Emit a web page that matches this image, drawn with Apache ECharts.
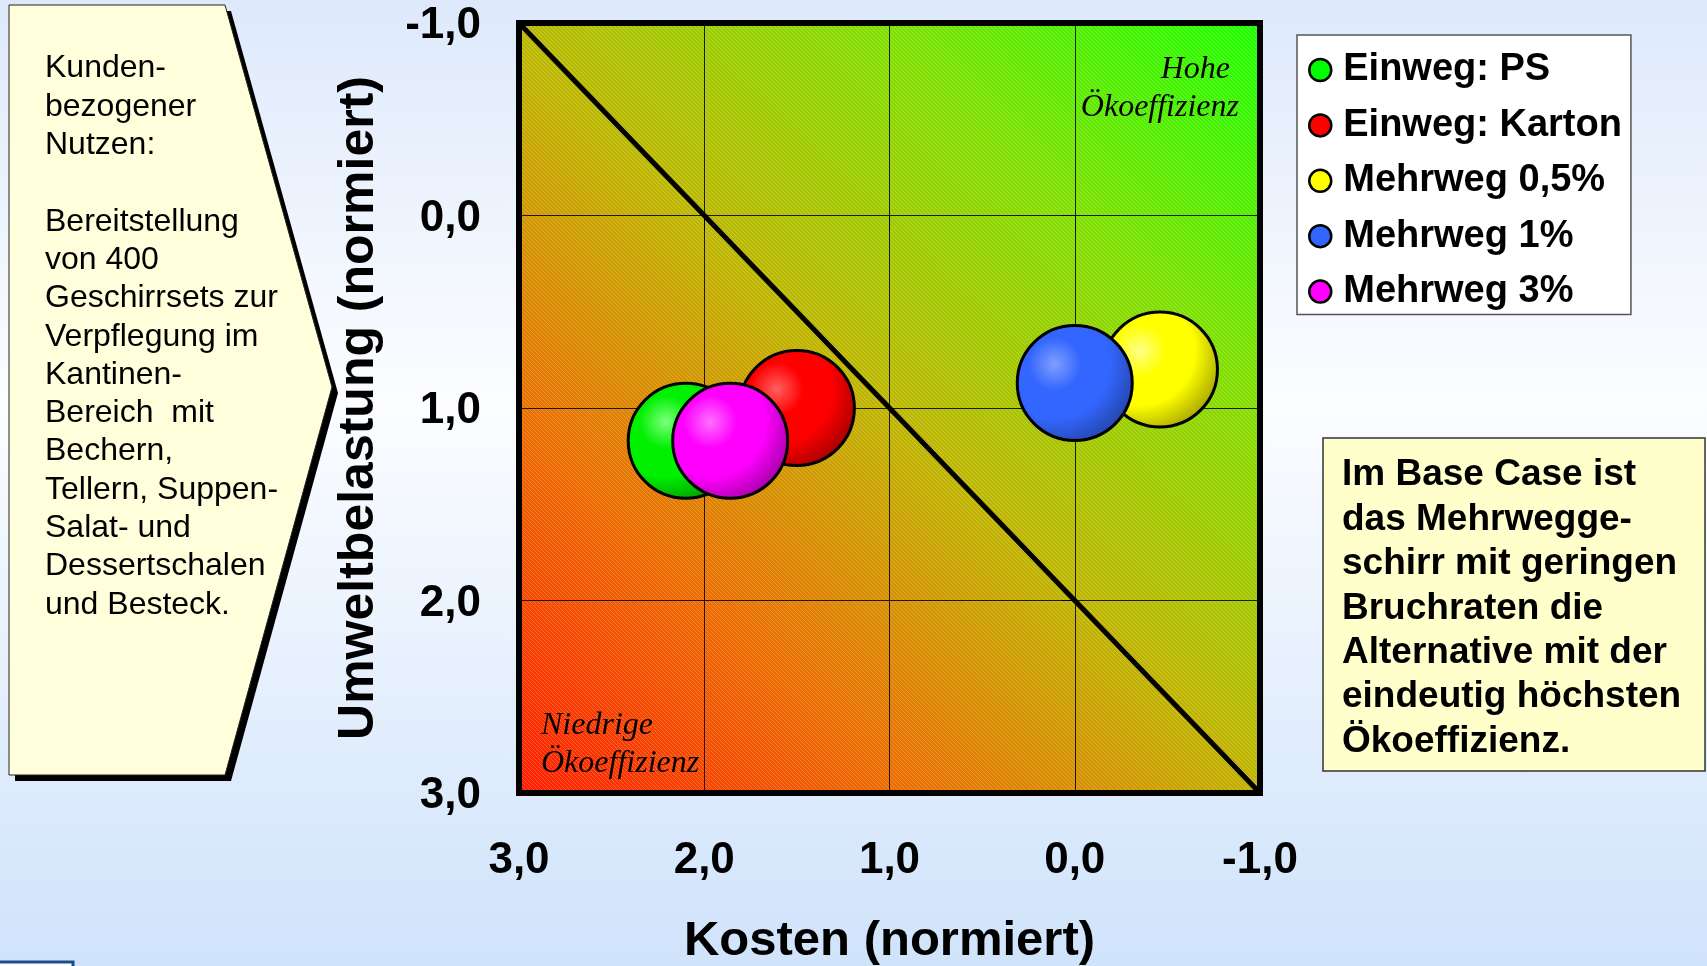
<!DOCTYPE html>
<html>
<head>
<meta charset="utf-8">
<script src="https://cdn.jsdelivr.net/npm/echarts@6/dist/echarts.min.js"></script>
<style>
  html, body { margin: 0; padding: 0; width: 1707px; height: 966px; overflow: hidden;
    background: linear-gradient(to bottom, #dde9fb 0%, #f4f8fe 30%, #fbfdff 42%, #e6f0fd 70%, #cfe3fb 100%); }
  #chart { width: 1707px; height: 966px; }
</style>
</head>
<body>
<div id="chart"></div>
<script>
// Alternatives compared in the eco-efficiency portfolio
const seriesNames = ['Einweg: PS', 'Einweg: Karton', 'Mehrweg 0,5%', 'Mehrweg 1%', 'Mehrweg 3%'];
// Normalised costs (x) and normalised environmental impact (y)
const kosten = [2.10, 1.50, -0.46, 0.00, 1.86];
const umwelt = [1.17, 1.00, 0.80, 0.87, 1.17];
// Shading per bubble: highlight, body, rim
const bubbleShades = [
  ['#7dff7d', '#00f000', '#009000'],
  ['#ff6060', '#ff0000', '#a00000'],
  ['#ffff86', '#ffff00', '#a0a000'],
  ['#7f9fff', '#3366ff', '#2244a4'],
  ['#ff70ff', '#ff00ff', '#a000a0']
];
const legendColors = ['#00ff00', '#ff0000', '#ffff00', '#3366ff', '#ff00ff'];
// Axis range (both axes run from -1,0 to 3,0)
const axisMin = -1, axisMax = 3, axisStep = 1;
// Line of equal eco-efficiency
const isoLine = [[3, -1], [-1, 3]];

const benefitLines = ['Kunden-', 'bezogener', 'Nutzen:', '', 'Bereitstellung', 'von 400',
  'Geschirrsets zur', 'Verpflegung im', 'Kantinen-', 'Bereich  mit', 'Bechern,',
  'Tellern, Suppen-', 'Salat- und', 'Dessertschalen', 'und Besteck.'];
const conclusionLines = ['Im Base Case ist', 'das Mehrwegge-', 'schirr mit geringen',
  'Bruchraten die', 'Alternative mit der', 'eindeutig höchsten', 'Ökoeffizienz.'];

const FONT = '"Liberation Sans", Arial, Helvetica, sans-serif';
const SERIF = '"Liberation Serif", "Times New Roman", serif';
const PLOT = { left: 519, top: 23, width: 741, height: 770 };

function fmt(v) { return v.toFixed(1).replace('.', ','); }

// fine diagonal hatch over the plot background
function hatchCanvas() {
  const c = document.createElement('canvas');
  c.width = 4; c.height = 4;
  const g = c.getContext('2d');
  g.strokeStyle = 'rgba(255,255,255,0.22)';
  g.lineWidth = 1;
  g.beginPath();
  g.moveTo(-1, -1); g.lineTo(5, 5);
  g.stroke();
  return c;
}

const chart = echarts.init(document.getElementById('chart'), null, { renderer: 'canvas' });

const arrowPts = [[9, 5], [225, 5], [332, 387], [225, 775], [9, 775]];

const option = {
  animation: false,
  grid: Object.assign({
    show: true, borderColor: '#000', borderWidth: 6, backgroundColor: 'transparent',
    containLabel: false, outerBoundsMode: 'none'
  }, PLOT),
  xAxis: {
    type: 'value', min: axisMin, max: axisMax, interval: axisStep, inverse: true,
    name: 'Kosten (normiert)', nameLocation: 'middle', nameGap: 124,
    nameTextStyle: { fontFamily: FONT, fontWeight: 'bold', fontSize: 49, color: '#000' },
    axisLine: { show: false },
    axisTick: { show: true, length: 15, lineStyle: { color: '#000', width: 1 } },
    axisLabel: { formatter: fmt, margin: 46, fontFamily: FONT, fontWeight: 'bold', fontSize: 44, color: '#000' },
    splitLine: { show: true, lineStyle: { color: '#000', width: 1, opacity: 0.85 } }
  },
  yAxis: {
    type: 'value', min: axisMin, max: axisMax, interval: axisStep, inverse: true,
    name: 'Umweltbelastung (normiert)', nameLocation: 'middle', nameGap: 135, nameRotate: 90,
    nameTextStyle: { fontFamily: FONT, fontWeight: 'bold', fontSize: 50, color: '#000' },
    axisLine: { show: false },
    axisTick: { show: true, length: 13, lineStyle: { color: '#000', width: 1 } },
    axisLabel: { formatter: fmt, margin: 38, verticalAlign: 'top', lineHeight: 6,
      fontFamily: FONT, fontWeight: 'bold', fontSize: 44, color: '#000' },
    splitLine: { show: true, lineStyle: { color: '#000', width: 1, opacity: 0.85 } }
  },
  legend: {
    orient: 'vertical', left: 1297, top: 35, icon: 'circle',
    itemWidth: 36, itemHeight: 22, itemGap: 17.4,
    padding: [16, 9, 4, 11],
    backgroundColor: '#ffffff', borderColor: '#555', borderWidth: 1.5,
    selectedMode: false,
    textStyle: { fontFamily: FONT, fontWeight: 'bold', fontSize: 38, lineHeight: 37, color: '#000' },
    data: seriesNames.map((n, i) => ({
      name: n, itemStyle: { color: legendColors[i], borderColor: '#000', borderWidth: 2.5 }
    }))
  },
  series: [
    {
      type: 'line', name: 'iso', data: isoLine, symbol: 'none', silent: true, z: 3,
      lineStyle: { color: '#000', width: 5 }
    }
  ].concat(seriesNames.map((n, i) => ({
    type: 'scatter', name: n, data: [[kosten[i], umwelt[i]]],
    symbol: 'circle', symbolSize: 115, silent: true, z: 4,
    itemStyle: {
      opacity: 1,
      color: {
        type: 'radial', x: 0.33, y: 0.34, r: 0.75,
        colorStops: [
          { offset: 0, color: bubbleShades[i][0] },
          { offset: 0.3, color: bubbleShades[i][1] },
          { offset: 0.62, color: bubbleShades[i][1] },
          { offset: 1, color: bubbleShades[i][2] }
        ]
      },
      borderColor: '#000', borderWidth: 3
    },
    emphasis: { disabled: true }
  }))),
  graphic: [
    // plot background: red (low eco-efficiency) to green (high)
    {
      type: 'rect', z: -10, silent: true,
      shape: { x: PLOT.left, y: PLOT.top, width: PLOT.width, height: PLOT.height },
      style: {
        fill: {
          type: 'linear', x: 0, y: 1, x2: 1, y2: 0,
          colorStops: [
            { offset: 0, color: '#ff1c00' },
            { offset: 0.25, color: '#ec6c00' },
            { offset: 0.5, color: '#bdb600' },
            { offset: 0.75, color: '#80df00' },
            { offset: 1, color: '#1cff00' }
          ]
        }
      }
    },
    {
      type: 'rect', z: -9, silent: true,
      shape: { x: PLOT.left, y: PLOT.top, width: PLOT.width, height: PLOT.height },
      style: { fill: { image: hatchCanvas(), repeat: 'repeat' } }
    },
    // quadrant captions
    {
      type: 'text', z: 5, silent: true,
      style: { text: 'Hohe', x: 1230, y: 70, align: 'right', verticalAlign: 'middle',
        font: 'italic 32px ' + SERIF, fill: '#000' }
    },
    {
      type: 'text', z: 5, silent: true,
      style: { text: 'Ökoeffizienz', x: 1239, y: 108, align: 'right', verticalAlign: 'middle',
        font: 'italic 32px ' + SERIF, fill: '#000' }
    },
    {
      type: 'text', z: 5, silent: true,
      style: { text: 'Niedrige', x: 541, y: 726, align: 'left', verticalAlign: 'middle',
        font: 'italic 32px ' + SERIF, fill: '#000' }
    },
    {
      type: 'text', z: 5, silent: true,
      style: { text: 'Ökoeffizienz', x: 541, y: 764, align: 'left', verticalAlign: 'middle',
        font: 'italic 32px ' + SERIF, fill: '#000' }
    },
    // customer benefit arrow box with drop shadow
    {
      type: 'polygon', z: 1, silent: true,
      shape: { points: arrowPts.map(p => [p[0] + 6, p[1] + 6]) },
      style: { fill: '#000' }
    },
    {
      type: 'polygon', z: 2, silent: true,
      shape: { points: arrowPts },
      style: { fill: '#ffffdc', stroke: '#222', lineWidth: 1 }
    },
    {
      type: 'text', z: 3, silent: true,
      style: { text: benefitLines.join('\n'), x: 45, y: 49.5, align: 'left', verticalAlign: 'top',
        font: '32px ' + FONT, lineHeight: 38.3, fill: '#000' }
    },
    // conclusion box
    {
      type: 'rect', z: 2, silent: true,
      shape: { x: 1323, y: 438, width: 382, height: 333 },
      style: { fill: '#ffffcc', stroke: '#333', lineWidth: 1.5 }
    },
    {
      type: 'text', z: 3, silent: true,
      style: { text: conclusionLines.join('\n'), x: 1342, y: 453, align: 'left', verticalAlign: 'top',
        font: 'bold 37px ' + FONT, lineHeight: 44.4, fill: '#000' }
    },
    // corner of the slide footer box
    {
      type: 'rect', z: 2, silent: true,
      shape: { x: -3, y: 962, width: 76, height: 20 },
      style: { fill: '#ffffff', stroke: '#1b4d8c', lineWidth: 3 }
    }
  ]
};

chart.setOption(option);
</script>
</body>
</html>
